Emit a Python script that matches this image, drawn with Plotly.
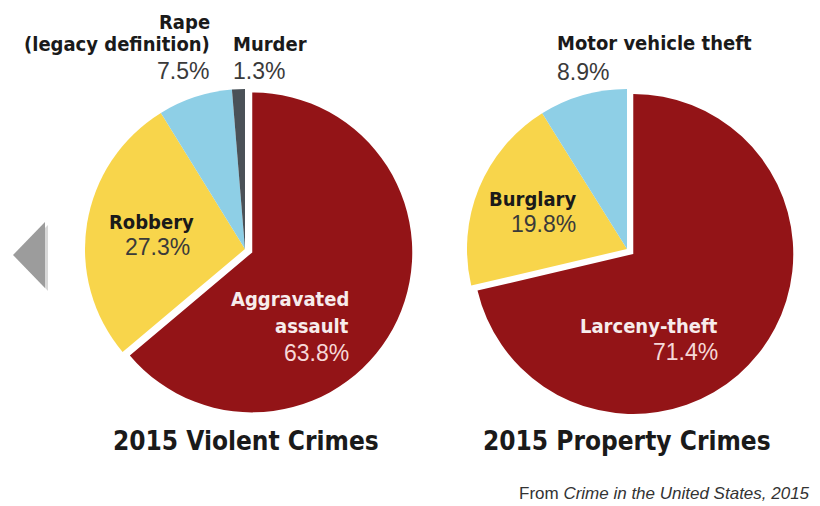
import plotly.graph_objects as go

# ---- data ----
violent_labels = ["Aggravated assault", "Robbery", "Rape (legacy definition)", "Murder"]
violent_values = [63.8, 27.3, 7.5, 1.3]
property_labels = ["Larceny-theft", "Burglary", "Motor vehicle theft"]
property_values = [71.4, 19.8, 8.9]
titles = ["2015 Violent Crimes", "2015 Property Crimes"]

# page body has an 8px default margin: size the figure to fit the window
OFF = 8
W, H = 820 - OFF, 506 - OFF
RED, YELLOW, BLUE, GRAY = "#931417", "#f8d54b", "#8ecfe6", "#4a5157"

def px(x):
    return (x - OFF) / W

def py(y):
    return 1 - (y - OFF) / H

fig = go.Figure()
fig.add_trace(go.Pie(
    labels=violent_labels, values=violent_values, sort=False, direction="clockwise",
    rotation=0, pull=[0.05, 0, 0, 0], textinfo="none", hoverinfo="label+percent",
    marker=dict(colors=[RED, YELLOW, BLUE, GRAY], line=dict(width=0)),
    domain=dict(x=[px(77), px(413)], y=[py(417), py(81)]), showlegend=False,
))
fig.add_trace(go.Pie(
    labels=property_labels, values=property_values, sort=False, direction="clockwise",
    rotation=0, pull=[0.05, 0, 0], textinfo="none", hoverinfo="label+percent",
    marker=dict(colors=[RED, YELLOW, BLUE], line=dict(width=0)),
    domain=dict(x=[px(459), px(795)], y=[py(417), py(81)]), showlegend=False,
))

BOLD = "DejaVu Sans Condensed, Liberation Sans Narrow, Arial Narrow, sans-serif"
REG = "Liberation Sans, Arial, sans-serif"

ann = []
def lab(text, x, y, anchor, color="#1a1a1a", size=20, family=BOLD, bold=True, h=None):
    t = "<b>%s</b>" % text if bold else text
    a = dict(text=t, x=px(x), y=py(y), xref="paper", yref="paper",
             xanchor=anchor, yanchor="middle", showarrow=False,
             font=dict(family=family, size=size, color=color))
    if h is not None:
        a["height"] = h
        a["borderpad"] = 0
    ann.append(a)

def pct(v):
    return "%.1f%%" % v

PC = dict(color="#3a3a3a", family=REG, bold=False, size=23)
PCR = dict(color="#f6d8d8", family=REG, bold=False, size=23)

# violent pie labels
lab("Rape", 211, 22, "right", h=22)
lab("(legacy definition)", 211, 44, "right", h=22)
lab(pct(violent_values[2]), 211, 71, "right", **PC)
lab("Murder", 231, 44, "left")
lab(pct(violent_values[3]), 231, 71, "left", **PC)
lab("Robbery", 151, 222, "center")
lab(pct(violent_values[1]), 157, 247, "center", **PC)
lab("Aggravated", 351, 299, "right", color="#f7ecec")
lab("assault", 351, 326, "right", color="#f7ecec")
lab(pct(violent_values[0]), 351, 353, "right", **PCR)

# property pie labels
lab("Motor vehicle theft", 555, 43, "left")
lab(pct(property_values[2]), 555, 72, "left", **PC)
lab("Burglary", 578, 199, "right")
lab(pct(property_values[1]), 578, 224, "right", **PC)
lab("Larceny-theft", 720, 326, "right", color="#f7ecec")
lab(pct(property_values[0]), 720, 352, "right", **PCR)

# titles
lab(titles[0], 246, 441, "center", size=26)
lab(titles[1], 627, 441, "center", size=26)

# source
ann.append(dict(text="From <i>Crime in the United States, 2015</i>", x=px(812), y=py(493),
                xref="paper", yref="paper", xanchor="right", yanchor="middle", showarrow=False,
                font=dict(family=REG, size=17, color="#333333")))

shapes = [
    dict(type="path", xref="paper", yref="paper",
         path="M %f %f L %f %f L %f %f Z" % (px(16), py(257), px(48), py(225), px(48), py(291)),
         fillcolor="#d8d8d8", line=dict(width=0), layer="below"),
    dict(type="path", xref="paper", yref="paper",
         path="M %f %f L %f %f L %f %f Z" % (px(13), py(255), px(45), py(222), px(45), py(288)),
         fillcolor="#9c9c9c", line=dict(width=0)),
]

fig.update_layout(
    width=W, height=H, margin=dict(l=0, r=0, t=0, b=0),
    paper_bgcolor="white", plot_bgcolor="white",
    annotations=ann, shapes=shapes,
)
fig.write_html("out.html")
